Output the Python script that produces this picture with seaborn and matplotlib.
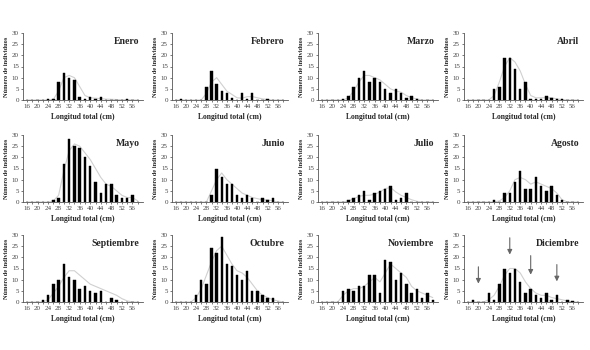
import numpy as np
import pandas as pd
import matplotlib
matplotlib.use("Agg")
import matplotlib.pyplot as plt
import seaborn as sns

sns.set_theme(style="ticks")
plt.rcParams['font.family'] = ['Liberation Serif', 'DejaVu Serif']

lengths = [16, 18, 20, 22, 24, 26, 28, 30, 32, 34, 36, 38, 40, 42, 44, 46, 48, 50, 52, 54, 56, 58]
tick_labels = [16, 20, 24, 28, 32, 36, 40, 44, 48, 52, 56]
months = ["Enero", "Febrero", "Marzo", "Abril", "Mayo", "Junio",
          "Julio", "Agosto", "Septiembre", "Octubre", "Noviembre", "Diciembre"]

enero =      [0, 0, 0, 0, 0.5, 0.5, 8, 12, 10, 9, 1.5, 0.5, 1.5, 0.5, 1.5, 0, 0, 0, 0, 0.5, 0, 0]
febrero =    [0, 0.5, 0, 0, 0, 0, 6, 13, 7, 4, 3, 1, 0, 3, 0.5, 3, 0, 0, 0.5, 0, 0, 0]
marzo =      [0, 0, 0, 0, 0.5, 2, 6, 10, 13, 8, 10, 8, 5, 3, 5, 3, 1, 2, 0.5, 0, 0, 0]
abril =      [0, 0, 0, 0, 0, 5, 6, 19, 19, 14, 5, 8, 0.5, 0.5, 0.5, 2, 1, 0.5, 0.5, 0, 0, 0]
mayo =       [0, 0, 0, 0, 0, 1, 2, 17, 28, 25, 24, 20, 16, 9, 4, 8, 8, 3, 2, 2, 3, 0]
junio =      [0, 0, 0, 0, 0, 0, 0, 3, 15, 11, 8, 8, 3, 2, 3, 2, 0, 2, 1, 2, 0, 0]
julio =      [0, 0, 0, 0, 0, 1, 2, 3, 5, 1, 4, 5, 6, 7, 1, 2, 4, 0, 0, 0, 0, 0]
agosto =     [0, 0, 0, 0, 0, 1, 0, 4, 4, 9, 14, 6, 6, 11, 7, 5, 7, 3, 1, 0, 0, 0]
septiembre = [0, 0, 0, 1, 3, 8, 10, 17, 11, 10, 6, 7, 5, 4, 5, 0, 2, 1, 0, 0, 0, 0]
octubre =    [0, 0, 0, 0, 3, 10, 8, 24, 22, 29, 17, 16, 12, 10, 14, 5, 5, 3, 2, 2, 0, 0]
noviembre =  [0, 0, 0, 0, 5, 6, 5, 7, 7, 12, 12, 4, 19, 18, 10, 13, 8, 4, 6, 2, 4, 1]
diciembre =  [0, 1, 0, 0, 4, 1, 8, 15, 13, 15, 9, 4, 6, 3, 2, 4, 1, 3, 0, 1, 0.5, 0]

c_enero =      [0, 0, 0, 0, 0, 0.3, 4, 10, 11, 10, 6, 2, 1, 0.8, 0.6, 0.4, 0.3, 0.2, 0.1, 0.1, 0, 0]
c_febrero =    [0, 0, 0, 0, 0, 0, 3, 8, 10, 7, 4, 2.5, 1, 0.8, 1.5, 1.5, 1, 0.5, 0.2, 0, 0, 0]
c_marzo =      [0, 0, 0, 0, 0, 1, 4, 8, 11, 11, 10, 9, 7, 5, 4, 3.5, 2, 1, 0.5, 0, 0, 0]
c_abril =      [0, 0, 0, 0, 0, 2, 8, 15, 19, 17, 13, 7, 2, 1, 1, 1, 1, 0.5, 0.2, 0, 0, 0]
c_mayo =       [0, 0, 0, 0, 0, 0.5, 3, 14, 23, 26, 25, 22, 19, 15, 11, 8, 7, 5, 3, 2, 2, 0.5]
c_junio =      [0, 0, 0, 0, 0, 0, 0, 5, 10, 13, 10, 8, 6, 4, 3, 2, 1.5, 1, 1, 0.5, 0, 0]
c_julio =      [0, 0, 0, 0, 0, 0.5, 1.5, 2.5, 3, 3, 3.5, 4.5, 6, 6.5, 4.5, 3, 2, 1, 0.3, 0, 0, 0]
c_agosto =     [0, 0, 0, 0, 0, 0, 0.5, 2, 5, 10, 11, 10, 8, 9, 8, 7, 6, 4, 1, 0, 0, 0]
c_septiembre = [0, 0, 0, 0, 1, 4, 7, 11, 14, 14, 12, 10, 8, 7, 6, 5, 4, 3, 1.5, 0.5, 0, 0]
c_octubre =    [0, 0, 0, 0, 2, 6, 12, 18, 23, 25, 21, 17, 14, 13, 11, 8, 5, 3, 2, 1, 0.5, 0]
c_noviembre =  [0, 0, 0, 0, 3, 5, 6, 6, 7, 9, 11, 9, 13, 17, 15, 13, 11, 7, 5, 4, 3, 2]
c_diciembre =  [0, 0, 0, 0, 1, 3, 7, 12, 15, 15, 13, 9, 6, 4, 3, 3, 2, 1.5, 1, 0.5, 0, 0]

counts = [enero, febrero, marzo, abril, mayo, junio, julio, agosto,
          septiembre, octubre, noviembre, diciembre]
curves = [c_enero, c_febrero, c_marzo, c_abril, c_mayo, c_junio, c_julio, c_agosto,
          c_septiembre, c_octubre, c_noviembre, c_diciembre]

# Diciembre arrows: (x, y_start, y_end)
arrow_x = [20, 32, 40, 50]
arrow_top = [17, 30, 22, 18]
arrow_bottom = [7, 20, 11, 8]

rows = []
for m, c, cv in zip(months, counts, curves):
    for L, n, k in zip(lengths, c, cv):
        rows.append({"mes": m, "longitud": L, "n": n, "curva": k})
df = pd.DataFrame(rows)

fig = plt.figure(figsize=(5.9, 3.5), dpi=100)
col_lefts = [23, 172, 318, 464]
col_widths = [120, 116, 120, 119]
row_tops = [33, 135, 235]
row_h = 67
W, H = 590, 350

for i, m in enumerate(months):
    r, c = divmod(i, 4)
    ax = fig.add_axes([col_lefts[c] / W, 1 - (row_tops[r] + row_h) / H,
                       col_widths[c] / W, row_h / H])
    sub = df[df["mes"] == m]
    sns.lineplot(data=sub, x="longitud", y="curva", ax=ax, color="#d0d0d0",
                 linewidth=0.8, zorder=1)
    sns.barplot(data=sub, x="longitud", y="n", ax=ax, native_scale=True,
                color="black", width=0.46, saturation=1, zorder=2,
                edgecolor="black", linewidth=0.3)
    ax.set_xlim(14.5, 60)
    ax.set_ylim(0, 30)
    ax.set_xticks(tick_labels)
    ax.set_xticks(lengths, minor=True)
    ax.set_yticks(range(0, 31, 5))
    ax.tick_params(axis="both", labelsize=5, colors="#444444", length=1.5,
                   width=0.5, pad=1.5)
    ax.tick_params(axis="x", which="minor", length=1.5, width=0.5, colors="#444444")
    for s in ["top", "right"]:
        ax.spines[s].set_visible(False)
    for s in ["left", "bottom"]:
        ax.spines[s].set_linewidth(0.6)
        ax.spines[s].set_color("#555555")
    ax.set_ylabel("Número de individuos", fontsize=4.6, fontweight="bold", labelpad=2)
    ax.set_xlabel("Longitud total (cm)", fontsize=5.5, fontweight="bold", labelpad=3)
    ax.text(0.97, 0.88, m, transform=ax.transAxes, ha="right", va="center",
            fontsize=7, fontweight="bold")
    if m == "Diciembre":
        for x0, yt, yb in zip(arrow_x, arrow_top, arrow_bottom):
            ax.annotate("", xy=(x0, yb), xytext=(x0, yt),
                        arrowprops=dict(arrowstyle="-|>", color="#666666",
                                        lw=0.8, mutation_scale=7))

fig.savefig("out.png", dpi=100)
